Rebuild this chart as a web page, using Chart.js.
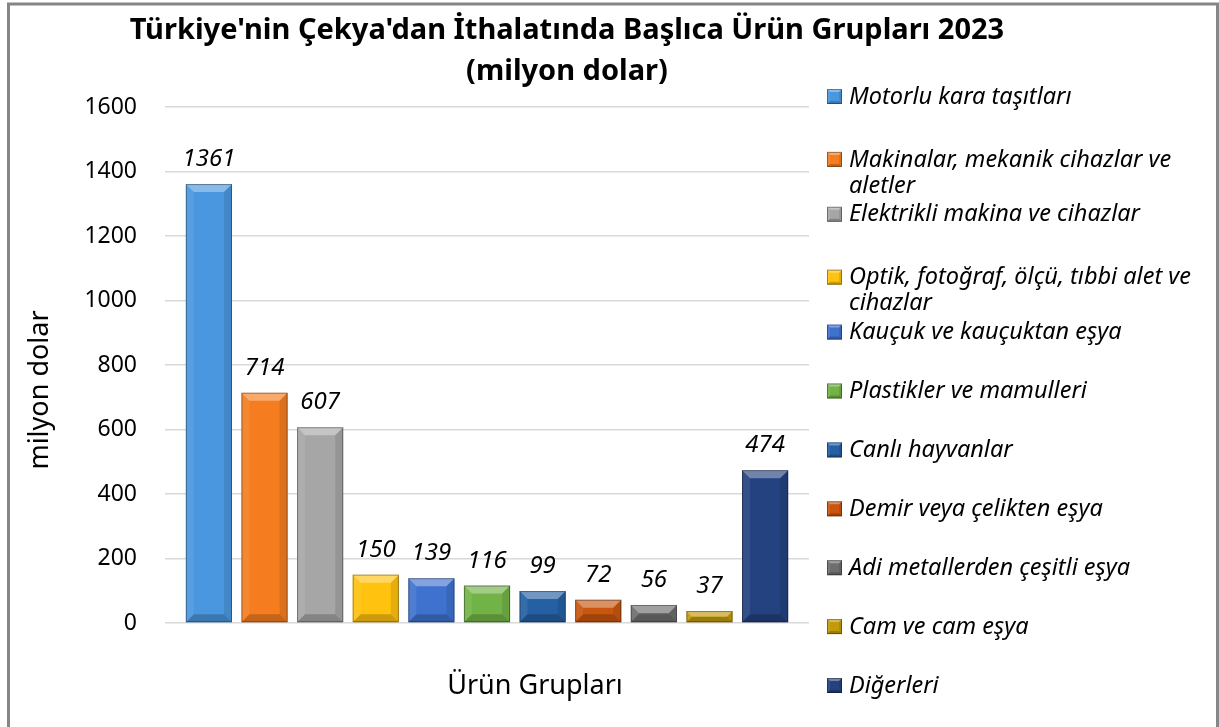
<!DOCTYPE html>
<html>
<head>
<meta charset="utf-8">
<script src="https://cdn.jsdelivr.net/npm/chart.js@4/dist/chart.umd.min.js"></script>
<style>
  html, body { margin: 0; padding: 0; background: #fff; }
  #c { display: block; }
</style>
</head>
<body>
<canvas id="c" width="1219" height="727"></canvas>
<script>
/**
 *  Data
 */
var titleLines = ["Türkiye'nin Çekya'dan İthalatında Başlıca Ürün Grupları 2023", "(milyon dolar)"];
var groupLabel = ["Ürün Grupları"];
var categories = [
    "Motorlu kara taşıtları",
    "Makinalar, mekanik cihazlar ve aletler",
    "Elektrikli makina ve cihazlar",
    "Optik, fotoğraf, ölçü, tıbbi alet ve cihazlar",
    "Kauçuk ve kauçuktan eşya",
    "Plastikler ve mamulleri",
    "Canlı hayvanlar",
    "Demir veya çelikten eşya",
    "Adi metallerden çeşitli eşya",
    "Cam ve cam eşya",
    "Diğerleri"
];
var values = [1361, 714, 607, 150, 139, 116, 99, 72, 56, 37, 474];
var colors = [
    "#4a97df", "#f57d20", "#a6a6a6", "#ffc20e", "#3f72cf", "#72b347",
    "#2460a3", "#c9560f", "#6e6e6e", "#c49a0a", "#24427f"
];
var yTitle = "milyon dolar";
var yMin = 0, yMax = 1600, yStep = 200;

var FONT = "'Noto Sans', 'DejaVu Sans', sans-serif";

/**
 *  Helpers
 */
var bevel = function (ctx, x0, y0, x1, y1, b) {
    var w = x1 - x0, h = y1 - y0;
    b = Math.max(0, Math.min(b, w / 2, h / 2));
    ctx.save();
    // top face light
    ctx.fillStyle = "rgba(255,255,255,0.35)";
    ctx.beginPath();
    ctx.moveTo(x0, y0); ctx.lineTo(x1, y0); ctx.lineTo(x1 - b, y0 + b); ctx.lineTo(x0 + b, y0 + b);
    ctx.closePath(); ctx.fill();
    // left side
    ctx.fillStyle = "rgba(255,255,255,0.08)";
    ctx.beginPath();
    ctx.moveTo(x0, y0); ctx.lineTo(x0 + b, y0 + b); ctx.lineTo(x0 + b, y1 - b); ctx.lineTo(x0, y1);
    ctx.closePath(); ctx.fill();
    // right side
    ctx.fillStyle = "rgba(0,0,0,0.10)";
    ctx.beginPath();
    ctx.moveTo(x1, y0); ctx.lineTo(x1 - b, y0 + b); ctx.lineTo(x1 - b, y1 - b); ctx.lineTo(x1, y1);
    ctx.closePath(); ctx.fill();
    // bottom
    ctx.fillStyle = "rgba(0,0,0,0.20)";
    ctx.beginPath();
    ctx.moveTo(x0, y1); ctx.lineTo(x1, y1); ctx.lineTo(x1 - b, y1 - b); ctx.lineTo(x0 + b, y1 - b);
    ctx.closePath(); ctx.fill();
    // outline
    ctx.strokeStyle = "rgba(0,0,0,0.35)";
    ctx.lineWidth = 1;
    ctx.strokeRect(x0 + 0.5, y0 + 0.5, w - 1, h - 1);
    ctx.restore();
};

var wrapText = function (ctx, text, maxWidth) {
    var words = text.split(" ");
    var lines = [];
    var line = "";
    words.forEach(function (word) {
        var test = line ? line + " " + word : word;
        if (line && ctx.measureText(test).width > maxWidth) {
            lines.push(line);
            line = word;
        } else {
            line = test;
        }
    });
    if (line) lines.push(line);
    return lines;
};

/**
 *  Plugin: bevel, value labels, title, legend, frame
 */
var decorations = {
    id: "decorations",
    afterDatasetsDraw: function (chart) {
        var ctx = chart.ctx;
        chart.data.datasets.forEach(function (ds, i) {
            var meta = chart.getDatasetMeta(i);
            meta.data.forEach(function (bar, j) {
                var p = bar.getProps(["x", "y", "base", "width"], true);
                var x0 = p.x - p.width / 2, x1 = p.x + p.width / 2;
                bevel(ctx, x0, p.y, x1, p.base, 8);

                ctx.save();
                ctx.fillStyle = "#000";
                ctx.font = "italic 24px " + FONT;
                ctx.textAlign = "center";
                ctx.textBaseline = "alphabetic";
                ctx.fillText(String(ds.data[j]), p.x, p.y - 18);
                ctx.restore();
            });
        });
    },
    afterDraw: function (chart) {
        var ctx = chart.ctx;
        ctx.save();

        // title
        ctx.fillStyle = "#000";
        ctx.textAlign = "center";
        ctx.textBaseline = "middle";
        ctx.font = "bold 29px " + FONT;
        ctx.fillText(titleLines[0], 567, 31);
        ctx.fillText(titleLines[1], 567, 72);

        // y axis title
        ctx.save();
        ctx.translate(40, 390);
        ctx.rotate(-Math.PI / 2);
        ctx.font = "27px " + FONT;
        ctx.fillText(yTitle, 0, 0);
        ctx.restore();

        // category label
        ctx.font = "27px " + FONT;
        ctx.fillText(groupLabel[0], 535, 686);

        // legend
        ctx.textAlign = "left";
        ctx.font = "italic 23.5px " + FONT;
        var slot = (686 - 97) / (categories.length - 1);
        categories.forEach(function (name, i) {
            var lines = wrapText(ctx, name, 362);
            var y = 97 + i * slot + (lines.length - 1) * 4;
            ctx.fillStyle = colors[i];
            ctx.fillRect(827, y - 8, 15, 15);
            bevel(ctx, 827, y - 8, 842, y + 7, 3);
            ctx.fillStyle = "#000";
            lines.forEach(function (ln, k) {
                ctx.fillText(ln, 849, y + k * 26);
            });
        });

        // frame
        ctx.strokeStyle = "#868686";
        ctx.lineWidth = 3;
        ctx.strokeRect(8.5, 4, 1209, 800);
        ctx.restore();
    }
};

/**
 *  Chart
 */
var datasets = categories.map(function (name, i) {
    return {
        label: name,
        data: [values[i]],
        backgroundColor: colors[i],
        borderWidth: 0,
        categoryPercentage: 0.95,
        barPercentage: 0.83
    };
});

new Chart(document.getElementById("c"), {
    type: "bar",
    data: { labels: groupLabel, datasets: datasets },
    options: {
        responsive: false,
        devicePixelRatio: 1,
        animation: false,
        events: [],
        layout: { padding: { left: 22, top: 107, right: 1219 - 809, bottom: 727 - 623 } },
        plugins: {
            legend: { display: false },
            title: { display: false },
            tooltip: { enabled: false }
        },
        scales: {
            x: {
                display: true,
                ticks: { display: false },
                grid: { display: false },
                border: { display: false },
                afterFit: function (scale) { scale.height = 0; }
            },
            y: {
                min: yMin,
                max: yMax,
                ticks: {
                    stepSize: yStep,
                    padding: 28,
                    color: "#000",
                    font: { family: FONT, size: 23 },
                    callback: function (v) { return String(v); }
                },
                grid: { color: "#d9d9d9", lineWidth: 1.5, drawTicks: false },
                border: { display: false },
                afterFit: function (scale) { scale.width = 143; }
            }
        }
    },
    plugins: [decorations]
});
</script>
</body>
</html>
